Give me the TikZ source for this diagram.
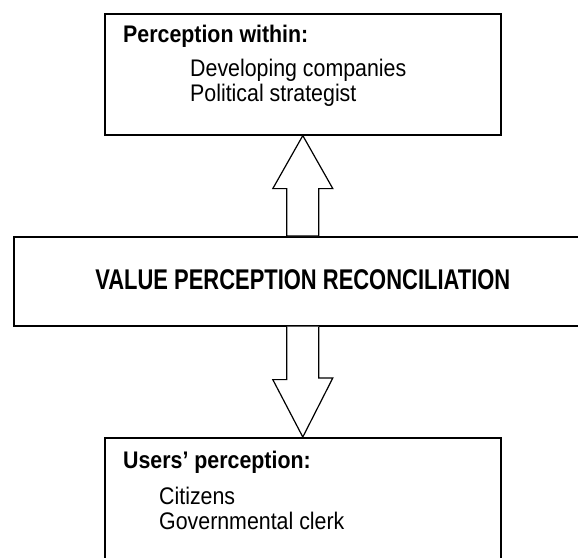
\documentclass[tikz,border=0pt]{standalone}
\usepackage{fontspec}
\setmainfont{Liberation Sans}
\newfontfamily\panelfont[Ligatures=TeX, FakeStretch=0.89]{Liberation Sans}
\newfontfamily\titlefont[Ligatures=TeX, FakeStretch=0.77]{Liberation Sans}
\usetikzlibrary{calc,positioning}

\def\shaft{16}  % half width of the arrow shafts
\def\head{30}   % half width of the arrow heads

\tikzset{
  panel/.style={draw, line width=1.6pt, inner sep=0pt, anchor=north west},
  heading/.style={font=\panelfont\fontsize{24}{28}\selectfont\bfseries, inner sep=0pt, anchor=base west},
  entry/.style={font=\panelfont\fontsize{24}{28}\selectfont, inner sep=0pt, anchor=base west},
  blockarrow/.style={draw, line width=1.2pt, fill=white, line join=miter},
}

\begin{document}
\begin{tikzpicture}[x=1pt, y=-1pt]
\clip (0,0) rectangle (578,557);

% the three panels
\node[panel, minimum width=396pt, minimum height=121pt] (within) at (104,13) {};
\node[panel, minimum width=578pt, minimum height=89pt, text depth=3pt,
  font=\titlefont\fontsize{28.5}{32}\selectfont\bfseries] (recon) at (13,236) {VALUE PERCEPTION RECONCILIATION};
\node[panel, minimum width=396pt, minimum height=150pt] (users) at (104,437) {};

% texts of the top panel
\node[heading] (withinhead) at ($(within.north west)+(19,29)$) {Perception within:};
\node[entry] (companies) at ($(within.north west)+(86,63)$) {Developing companies};
\node[entry] (strategist) at ($(within.north west)+(86,88)$) {Political strategist};

% texts of the bottom panel
\node[heading] (usershead) at ($(users.north west)+(19,31)$) {Users’ perception:};
\node[entry] (citizens) at ($(users.north west)+(55,67)$) {Citizens};
\node[entry] (clerk) at ($(users.north west)+(55,92)$) {Governmental clerk};

% block arrow up into the top panel
\draw[blockarrow] (within.south) -- ++(-\head,53) -- ++(\head-\shaft,0)
  -- ($(recon.north)+(-\shaft,0)$) -- ($(recon.north)+(\shaft,0)$)
  -- ($(within.south)+(\shaft,53)$) -- ++(\head-\shaft,0) -- cycle;

% block arrow down into the bottom panel
\draw[blockarrow] ($(recon.south)+(-\shaft,0)$) -- ++(0,53) -- ++(\shaft-\head,0)
  -- (users.north) -- ++(\head,-59) -- ++(\shaft-\head,0)
  -- ($(recon.south)+(\shaft,0)$);
\end{tikzpicture}
\end{document}
